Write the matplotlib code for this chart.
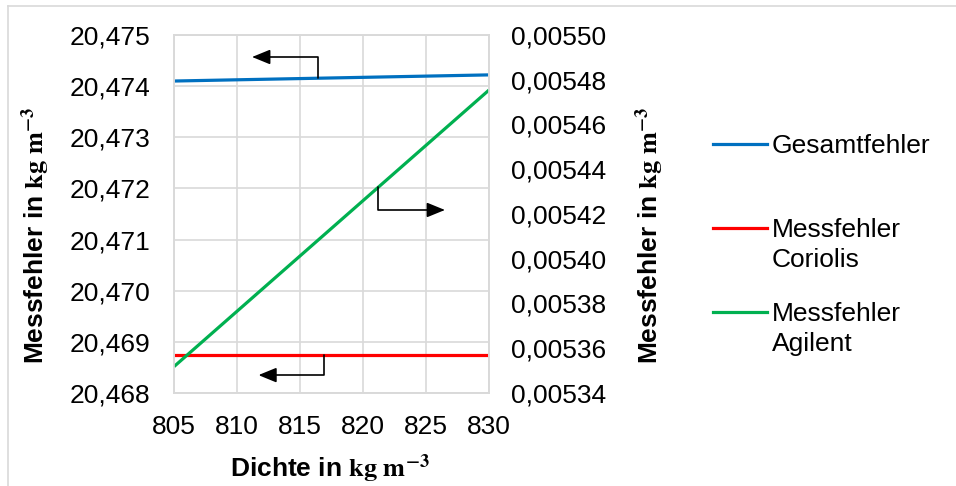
import matplotlib
matplotlib.use("Agg")
import matplotlib.pyplot as plt
from matplotlib.lines import Line2D
from matplotlib.ticker import FuncFormatter, MultipleLocator
import numpy as np

plt.rcParams['font.family'] = ['Liberation Sans', 'DejaVu Sans']
plt.rcParams['mathtext.fontset'] = 'stix'

# Density values (kg/m^3)
dichte = [805, 830]
# Left axis series
gesamtfehler = [20.47410, 20.47422]
messfehler_coriolis = [20.46874, 20.46874]
# Right axis series
messfehler_agilent = [0.0053518, 0.0054754]

x_ticks = [805, 810, 815, 820, 825, 830]
labels = ["Gesamtfehler", "Messfehler\nCoriolis", "Messfehler\nAgilent"]

C_BLUE = "#0070C0"
C_RED = "#FF0000"
C_GREEN = "#00B050"
C_GRID = "#D9D9D9"
FS = 19

W, H = 956, 486
fig = plt.figure(figsize=(W / 100, H / 100), dpi=100)

def fx(px):
    return px / W

def fy(py):
    return 1 - py / H

ax1 = fig.add_axes([fx(174), fy(393), fx(489) - fx(174), fy(35) - fy(393)])
ax2 = ax1.twinx()

l1, = ax1.plot(dichte, gesamtfehler, color=C_BLUE, lw=2.3, solid_capstyle='butt')
l2, = ax1.plot(dichte, messfehler_coriolis, color=C_RED, lw=2.3, solid_capstyle='butt')
l3, = ax2.plot(dichte, messfehler_agilent, color=C_GREEN, lw=2.3, solid_capstyle='butt')

ax1.set_xlim(805, 830)
ax1.set_ylim(20.468, 20.475)
ax2.set_ylim(0.00534, 0.00550)
ax1.set_xticks(x_ticks)
ax1.yaxis.set_major_locator(MultipleLocator(0.001))
ax2.yaxis.set_major_locator(MultipleLocator(0.00002))
ax1.yaxis.set_major_formatter(FuncFormatter(lambda v, p: f"{v:.3f}".replace('.', ',')))
ax2.yaxis.set_major_formatter(FuncFormatter(lambda v, p: f"{v:.5f}".replace('.', ',')))

ax1.grid(True, color=C_GRID, lw=1.2)
ax1.set_axisbelow(True)
for ax in (ax1, ax2):
    for s in ax.spines.values():
        s.set_color(C_GRID)
        s.set_linewidth(1.2)
ax1.tick_params(axis='both', length=0, labelsize=FS, colors='black')
ax1.tick_params(axis='y', pad=17)
ax1.tick_params(axis='x', pad=16)
ax2.tick_params(axis='y', length=0, labelsize=FS, pad=16)

ylab = r"Messfehler in $\mathbf{kg\ m^{-3}}$"
ax1.set_ylabel(ylab, fontsize=FS, fontweight='bold')
ax1.yaxis.set_label_coords(-0.387, 0.4385)
ax2.set_ylabel(ylab, fontsize=FS, fontweight='bold')
ax2.yaxis.set_label_coords(1.457, 0.4385)
ax1.set_xlabel(r"Dichte in $\mathbf{kg\ m^{-3}}$", fontsize=FS, fontweight='bold')
ax1.xaxis.set_label_coords(0.495, -0.166)

# Elbow arrows pointing each series to its axis
arrow_kw = dict(arrowstyle='-|>,head_length=1.1,head_width=0.45', color='black',
                lw=1.2, mutation_scale=10, shrinkA=0, shrinkB=0,
                connectionstyle='angle,angleA=90,angleB=0,rad=0')

xs = 816.4
ax1.annotate('', xy=(811.2, 20.47457), xytext=(xs, np.interp(xs, dichte, gesamtfehler)),
             arrowprops=arrow_kw)
xs = 816.9
ax1.annotate('', xy=(811.7, 20.46835), xytext=(xs, np.interp(xs, dichte, messfehler_coriolis)),
             arrowprops=arrow_kw)
xs = 821.2
ax2.annotate('', xy=(826.5, 0.0054218), xytext=(xs, np.interp(xs, dichte, messfehler_agilent)),
             arrowprops=arrow_kw)

# Legend drawn beside the plot, handle aligned with the first text line
legend_rows = [(l1, labels[0], 144), (l2, labels[1], 228), (l3, labels[2], 312)]
for line, text, py in legend_rows:
    fig.add_artist(Line2D([fx(713), fx(767)], [fy(py), fy(py)], color=line.get_color(),
                          lw=2.3, transform=fig.transFigure))
    for k, part in enumerate(text.split("\n")):
        fig.text(fx(772), fy(py + 9 + 30 * k), part, fontsize=FS, va='baseline', ha='left')

# Chart area frame (top and left edges)
fig.add_artist(Line2D([fx(7.5), fx(956)], [fy(6), fy(6)], color=C_GRID, lw=1.2,
                      transform=fig.transFigure))
fig.add_artist(Line2D([fx(7.5), fx(7.5)], [fy(6), fy(486)], color=C_GRID, lw=1.2,
                      transform=fig.transFigure))

fig.savefig("out.png", dpi=100, facecolor='white')
